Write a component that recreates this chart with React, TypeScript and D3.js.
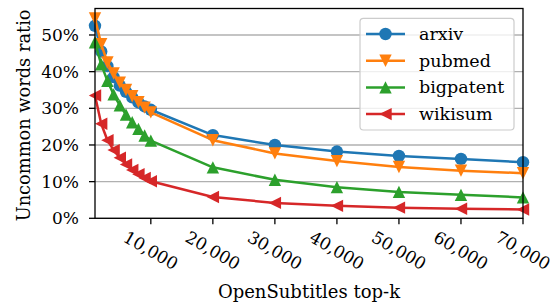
import * as d3 from 'd3'

// chart geometry
const W = 559
const H = 305
const M = { left: 95, right: 36, top: 8.5, bottom: 86.7 }
const FONT = 'DejaVu Serif, serif'
const FS = 17

const topK = [1000, 2000, 3000, 4000, 5000, 6000, 7000, 8000, 9000, 10000,
  20000, 30000, 40000, 50000, 60000, 70000]
const xTicks = [10000, 20000, 30000, 40000, 50000, 60000, 70000]
const yTicks = [0, 10, 20, 30, 40, 50]

const arxiv = [52.5, 45.5, 41.5, 38.5, 36.2, 34.5, 33, 31.6, 30.5, 29.6, 22.7, 20.0, 18.2, 17.0, 16.2, 15.3]
const pubmed = [54.5, 47.5, 42.5, 39.5, 37, 35, 33.3, 31.7, 30.2, 28.9, 21.3, 17.7, 15.6, 14.0, 13.0, 12.3]
const bigpatent = [48, 42, 37.5, 33.8, 30.8, 28.3, 26.2, 24.4, 22.6, 21.2, 13.9, 10.5, 8.5, 7.2, 6.4, 5.7]
const wikisum = [33.5, 25.8, 21.3, 18.6, 16.5, 14.7, 13.2, 12, 11, 10.1, 5.8, 4.2, 3.4, 2.9, 2.6, 2.4]

const SERIES = [
  { name: 'arxiv', values: arxiv, color: '#1f77b4', marker: 'circle' },
  { name: 'pubmed', values: pubmed, color: '#ff7f0e', marker: 'down' },
  { name: 'bigpatent', values: bigpatent, color: '#2ca02c', marker: 'up' },
  { name: 'wikisum', values: wikisum, color: '#d62728', marker: 'left' },
]

const MS = 6.2 // half marker size in px

function Marker({ kind, x, y, color }: { kind: string; x: number; y: number; color: string }) {
  if (kind === 'circle') return <circle cx={x} cy={y} r={MS} fill={color} />
  const s = MS
  let pts = ''
  if (kind === 'down') pts = `${x},${y + s} ${x - s},${y - s} ${x + s},${y - s}`
  if (kind === 'up') pts = `${x},${y - s} ${x - s},${y + s} ${x + s},${y + s}`
  if (kind === 'left') pts = `${x - s},${y} ${x + s},${y - s} ${x + s},${y + s}`
  return <polygon points={pts} fill={color} />
}

export default function App() {
  const x = d3.scaleLinear().domain([1000, 70000]).range([M.left, W - M.right])
  const y = d3.scaleLinear().domain([0, 54.5 * 1.05]).range([H - M.bottom, M.top])
  const line = d3.line<number>()
  const fmt = d3.format(',')

  const x0 = M.left
  const x1 = W - M.right
  const y0 = H - M.bottom
  const y1 = M.top

  return (
    <svg width={W} height={H} style={{ position: 'absolute', left: 0, top: 0, background: '#fff' }}
      fontFamily={FONT} fontSize={FS}>
      {/* grid */}
      {yTicks.map((t) => (
        <line key={'g' + t} x1={x0} x2={x1} y1={y(t)} y2={y(t)} stroke="#b0b0b0" strokeWidth={1.3} />
      ))}

      {/* series */}
      {SERIES.map((s) => {
        const pts = s.values.map((v, i) => [x(topK[i]), y(v)] as [number, number])
        return (
          <g key={s.name}>
            <path d={line(pts as any) || ''} fill="none" stroke={s.color} strokeWidth={2.5} strokeLinejoin="round" />
            {pts.map((p, i) => (
              <Marker key={i} kind={s.marker} x={p[0]} y={p[1]} color={s.color} />
            ))}
          </g>
        )
      })}

      {/* frame */}
      <rect x={x0} y={y1} width={x1 - x0} height={y0 - y1} fill="none" stroke="#000" strokeWidth={1.3} />

      {/* y axis */}
      {yTicks.map((t) => (
        <g key={'y' + t}>
          <line x1={x0 - 6} x2={x0} y1={y(t)} y2={y(t)} stroke="#000" strokeWidth={1.3} />
          <text x={x0 - 16} y={y(t)} textAnchor="end" dominantBaseline="central">{t}%</text>
        </g>
      ))}

      {/* x axis */}
      {xTicks.map((t) => (
        <g key={'x' + t}>
          <line x1={x(t)} x2={x(t)} y1={y0} y2={y0 + 6} stroke="#000" strokeWidth={1.3} />
          <text transform={`translate(${x(t)},${y0 + 32}) rotate(30)`} textAnchor="middle" dominantBaseline="central">
            {fmt(t)}
          </text>
        </g>
      ))}

      <text x={(x0 + x1) / 2} y={298} textAnchor="middle" fontSize={18}>OpenSubtitles top-k</text>
      <text transform={`translate(30,${(y0 + y1) / 2 + 2}) rotate(-90)`} textAnchor="middle" fontSize={17.8}>Uncommon words ratio</text>

      {/* legend */}
      <g>
        <rect x={360} y={18.3} width={154} height={111.7} rx={3.5} fill="#fff" fillOpacity={0.8} stroke="#cccccc" strokeWidth={1.2} />
        {SERIES.map((s, i) => {
          const ly = 34 + i * 26.7
          return (
            <g key={'l' + s.name}>
              <line x1={366} x2={405} y1={ly} y2={ly} stroke={s.color} strokeWidth={2.5} />
              <Marker kind={s.marker} x={385.5} y={ly} color={s.color} />
              <text x={419} y={ly} dominantBaseline="central" fontSize={17.5}>{s.name}</text>
            </g>
          )
        })}
      </g>
    </svg>
  )
}
